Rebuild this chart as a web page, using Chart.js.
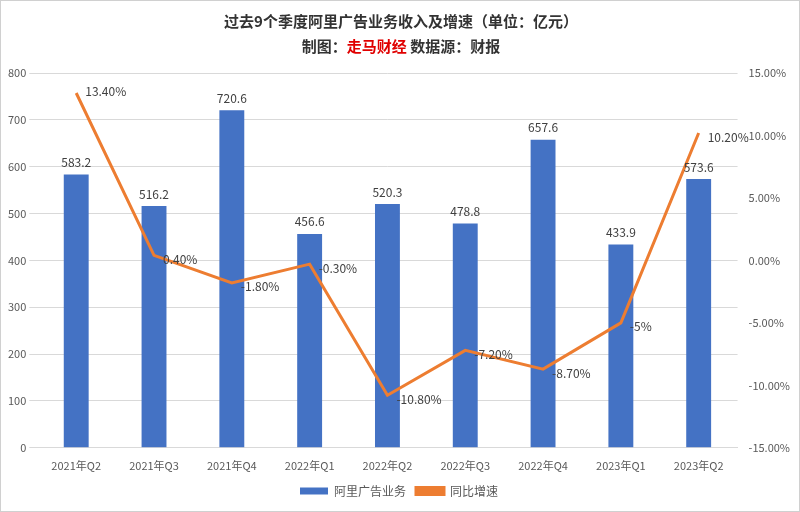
<!DOCTYPE html>
<html><head><meta charset="utf-8">
<script src="https://cdn.jsdelivr.net/npm/chart.js@4"></script>
<style>body{margin:0;background:#fff}#w{width:798px;height:510px;border:1px solid #d0d0d0}</style>
</head><body><div id="w"><canvas id="c"></canvas></div>
<script>
const categories=['2021年Q2','2021年Q3','2021年Q4','2022年Q1','2022年Q2','2022年Q3','2022年Q4','2023年Q1','2023年Q2'];
const revenue=[583.2,516.2,720.6,456.6,520.3,478.8,657.6,433.9,573.6];
const growth=[13.4,0.4,-1.8,-0.3,-10.8,-7.2,-8.7,-5,10.2];
const growthLabels=['13.40%','0.40%','-1.80%','-0.30%','-10.80%','-7.20%','-8.70%','-5%','10.20%'];
const F='"Noto Sans CJK SC","Noto Sans",sans-serif';
const deco={id:'deco',afterDraw(ch){const x=ch.ctx;x.save();x.textBaseline='middle';
x.font='bold 15px '+F;x.fillStyle='#333';x.textAlign='center';x.fillText('过去9个季度阿里广告业务收入及增速（单位：亿元）',400,20);
const parts=[['制图：','#333'],['走马财经','#e00000'],[' 数据源：财报','#333']];
let tw=parts.reduce((s,p)=>s+x.measureText(p[0]).width,0);let sx=400-tw/2;x.textAlign='left';
parts.forEach(p=>{x.fillStyle=p[1];x.fillText(p[0],sx,45);sx+=x.measureText(p[0]).width;});
x.font='12px '+F;x.fillStyle='#404040';
const m0=ch.getDatasetMeta(0);m0.data.forEach((b,i)=>{x.textAlign='center';x.fillText(revenue[i].toFixed(1),b.x,b.y-12);});
const m1=ch.getDatasetMeta(1);m1.data.forEach((p,i)=>{x.textAlign='left';x.fillText(growthLabels[i],p.x+9,p.y+(i==0?-2:4));});
x.restore();}};
new Chart(document.getElementById('c'),{data:{labels:categories,datasets:[
{type:'bar',label:'阿里广告业务',data:revenue,backgroundColor:'#4472C4',yAxisID:'y',barPercentage:0.32,categoryPercentage:1,order:2},
{type:'line',label:'同比增速',data:growth,borderColor:'#ED7D31',backgroundColor:'#ED7D31',borderWidth:3,pointRadius:0,yAxisID:'y1',order:1}]},
options:{responsive:true,maintainAspectRatio:false,animation:false,layout:{padding:{top:72,left:4,right:6,bottom:4}},
plugins:{legend:{position:'bottom',labels:{sort:(a,b)=>a.datasetIndex-b.datasetIndex,font:{family:F,size:12},color:'#595959',boxWidth:28,boxHeight:7}},tooltip:{enabled:false}},
scales:{x:{grid:{display:false},border:{color:'#d9d9d9'},ticks:{font:{family:F,size:11},color:'#595959'}},
y:{min:0,max:800,ticks:{stepSize:100,font:{family:F,size:11},color:'#595959'},grid:{color:'#d9d9d9'},border:{display:false}},
y1:{position:'right',min:-15,max:15,ticks:{stepSize:5,callback:v=>v.toFixed(2)+'%',font:{family:F,size:11},color:'#595959'},grid:{display:false},border:{display:false}}}},
plugins:[deco]});
</script></body></html>
